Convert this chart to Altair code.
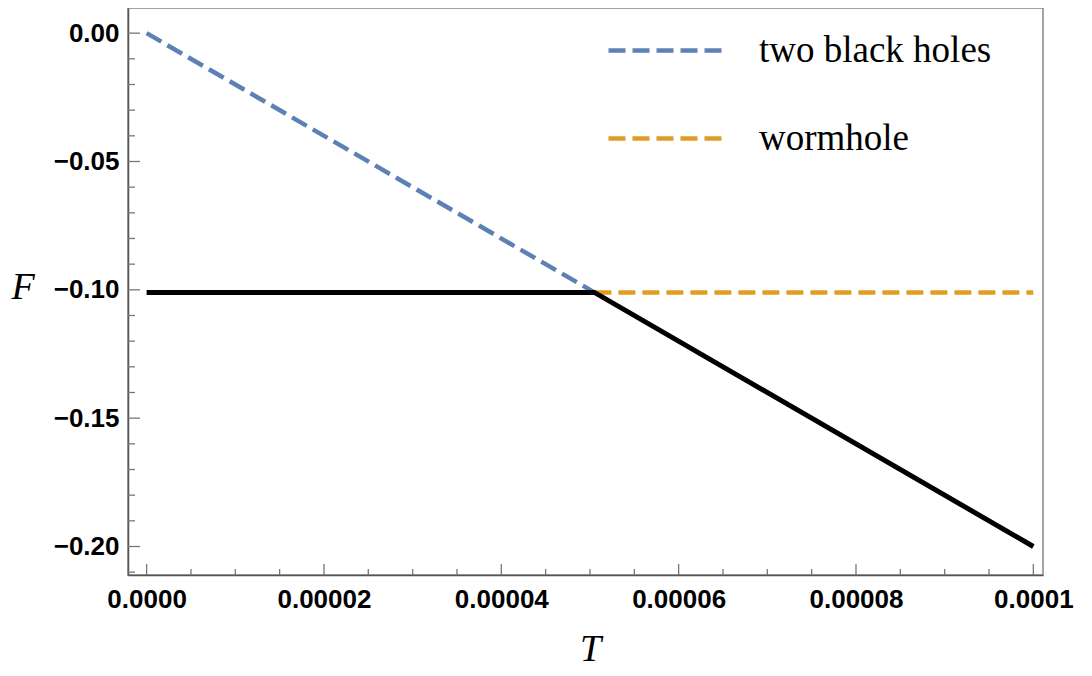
import altair as alt
import pandas as pd

# ---- data ----
T_bh = [0.0, 0.0000505]
F_bh = [0.0, -0.101]
T_wh = [0.0000505, 0.0001]
F_wh = [-0.101, -0.101]
T_min = [0.0, 0.0000505, 0.0001]
F_min = [-0.101, -0.101, -0.2]
series_names = ["two black holes", "wormhole"]
series_colors = ["#5E81B5", "#E19C24"]

x_major = [0.0, 0.00002, 0.00004, 0.00006, 0.00008, 0.0001]
x_minor = [0.000005, 0.00001, 0.000015, 0.000025, 0.00003, 0.000035,
           0.000045, 0.00005, 0.000055, 0.000065, 0.00007, 0.000075,
           0.000085, 0.00009, 0.000095]
y_major = [0.0, -0.05, -0.10, -0.15, -0.20]
y_minor = [0.01, -0.01, -0.02, -0.03, -0.04, -0.06, -0.07, -0.08, -0.09,
           -0.11, -0.12, -0.13, -0.14, -0.16, -0.17, -0.18, -0.19, -0.21]

x_domain = [-0.0000021, 0.00010109]
y_domain = [-0.2111, 0.0098]

W, H = 915, 567

df_dash = pd.DataFrame({
    "T": T_bh + T_wh,
    "F": F_bh + F_wh,
    "series": [series_names[0]] * len(T_bh) + [series_names[1]] * len(T_wh),
})
df_min = pd.DataFrame({"T": T_min, "F": F_min})

xs = alt.Scale(domain=x_domain, nice=False, zero=False)
ys = alt.Scale(domain=y_domain, nice=False, zero=False)

label_font = "Liberation Sans"
serif = "Liberation Serif"

x_axis = alt.Axis(
    values=x_major, ticks=False, grid=False, domain=True, domainColor="#555555",
    domainWidth=1.5, labelFont=label_font, labelFontWeight="bold", labelFontSize=26,
    labelColor="black", labelPadding=11,
    labelExpr="datum.value == 0 ? '0.0000' : format(datum.value, '.5~f')",
    title="T", titleFont=serif, titleFontStyle="italic", titleFontWeight="normal",
    titleFontSize=38, titleColor="black", titleX=462, titleY=85,
    titleBaseline="alphabetic", titleAlign="center", labelFlush=False,
)
y_axis = alt.Axis(
    values=y_major, ticks=False, grid=False, domain=True, domainColor="#555555",
    domainWidth=1.5, labelFont=label_font, labelFontWeight="bold", labelFontSize=26,
    labelColor="black", labelPadding=9, format=".2f",
    title="F", titleFont=serif, titleFontStyle="italic", titleFontWeight="normal",
    titleFontSize=38, titleColor="black", titleAngle=0, titleX=-117, titleY=279,
    titleBaseline="middle", titleAlign="left", labelFlush=False,
)

dashed = alt.Chart(df_dash).mark_line(
    strokeWidth=4.5, strokeDash=[17, 7], strokeCap="butt"
).encode(
    x=alt.X("T:Q", scale=xs, axis=x_axis),
    y=alt.Y("F:Q", scale=ys, axis=y_axis),
    color=alt.Color(
        "series:N",
        scale=alt.Scale(domain=series_names, range=series_colors),
        legend=alt.Legend(
            title=None, orient="none", legendX=478, legendY=-19, padding=0,
            symbolType="stroke", symbolSize=118 * 118, symbolStrokeWidth=4.5,
            symbolDash=[17, 7], labelFont=serif, labelFontSize=37,
            labelColor="black", labelOffset=30, rowPadding=8, labelLimit=0,
        ),
    ),
    detail="series:N",
)

black = alt.Chart(df_min).mark_line(color="black", strokeWidth=5).encode(
    x=alt.X("T:Q", scale=xs), y=alt.Y("F:Q", scale=ys)
)

df_xmaj = pd.DataFrame({"T": x_major})
df_xmin = pd.DataFrame({"T": x_minor})
df_ymaj = pd.DataFrame({"F": y_major})
df_ymin = pd.DataFrame({"F": y_minor})

tick_color = "#777777"
xt_maj = alt.Chart(df_xmaj).mark_rule(color=tick_color, strokeWidth=1.3).encode(
    x=alt.X("T:Q", scale=xs), y=alt.value(H), y2=alt.value(H - 11))
xt_min = alt.Chart(df_xmin).mark_rule(color=tick_color, strokeWidth=1.3).encode(
    x=alt.X("T:Q", scale=xs), y=alt.value(H), y2=alt.value(H - 6))
yt_maj = alt.Chart(df_ymaj).mark_rule(color=tick_color, strokeWidth=1.3).encode(
    y=alt.Y("F:Q", scale=ys), x=alt.value(0), x2=alt.value(12))
yt_min = alt.Chart(df_ymin).mark_rule(color=tick_color, strokeWidth=1.3).encode(
    y=alt.Y("F:Q", scale=ys), x=alt.value(0), x2=alt.value(7))

chart = alt.layer(
    xt_maj, xt_min, yt_maj, yt_min, dashed, black
).properties(
    width=W, height=H,
    autosize=alt.AutoSizeParams(type="none"),
    padding={"left": 120, "top": 0, "right": 40, "bottom": 93},
).configure_view(
    stroke="#888888", strokeWidth=1.5
)

chart.save("out.html", embed_options={"renderer": "svg", "actions": False})
